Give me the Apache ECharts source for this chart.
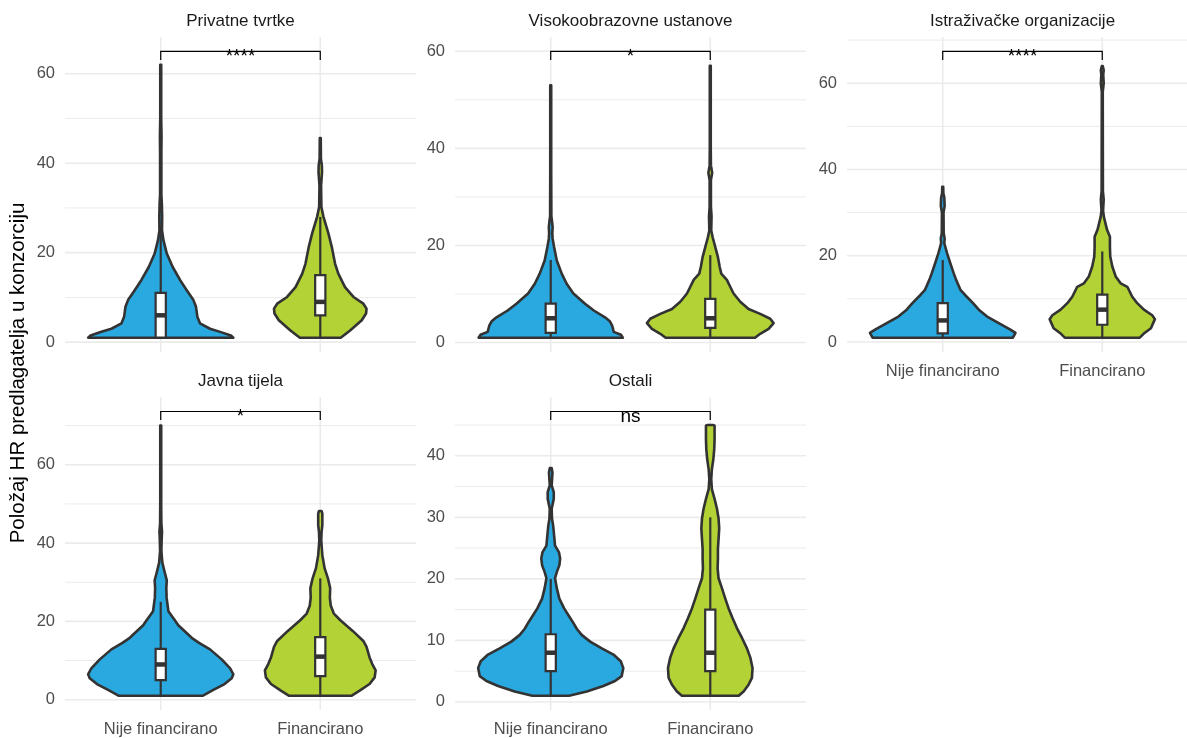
<!DOCTYPE html>
<html>
<head>
<meta charset="utf-8">
<script src="https://cdn.jsdelivr.net/npm/echarts@6/dist/echarts.min.js"></script>
<style>
html,body{margin:0;padding:0;background:#ffffff;}
#chart{width:1187px;height:738px;}
</style>
</head>
<body>
<div id="chart"></div>
<script>
// ---------------- DATA ----------------
const panelTitles = ['Privatne tvrtke', 'Visokoobrazovne ustanove', 'Istraživačke organizacije', 'Javna tijela', 'Ostali'];
const groups = ['Nije financirano', 'Financirano'];
const yAxisTitle = 'Položaj HR predlagatelja u konzorciju';

// violin outlines: [value, half-width of the density in category units]
const violinPrivatneNije = [[1,0.455],[1.5,0.44],[2.3,0.372],[3,0.309],[4.2,0.246],[5.6,0.23],[7.9,0.221],[9.4,0.205],[11.6,0.163],[13.9,0.121],[16.8,0.075],[19.8,0.038],[22.8,0.017],[25,0.008],[28,0.009],[31,0.007],[33,0.004],[42,0.004],[46,0.005],[50,0.003],[62,0.003]];
const violinPrivatneFin = [[1,0.128],[2.6,0.187],[4.9,0.26],[6.4,0.287],[7.5,0.29],[8.6,0.27],[10.1,0.208],[12.3,0.155],[15.3,0.113],[17.5,0.093],[21.3,0.072],[24.3,0.051],[28,0.02],[30.2,0.007],[35,0.005],[38,0.011],[39.5,0.01],[41,0.004],[45.6,0.003]];
const violinVisokoNije = [[1,0.452],[1.6,0.44],[2.2,0.395],[3.5,0.385],[4.4,0.37],[5.2,0.34],[6.6,0.27],[8,0.215],[10.1,0.142],[12.1,0.1],[14.2,0.069],[16.9,0.038],[19.7,0.021],[21.4,0.012],[22.5,0.01],[23.8,0.012],[25,0.008],[26,0.004],[35,0.003],[53,0.003]];
const violinVisokoFin = [[1,0.28],[1.8,0.313],[2.8,0.366],[4,0.397],[4.9,0.376],[5.9,0.313],[6.9,0.24],[8.4,0.188],[10.1,0.146],[11.5,0.125],[12.9,0.104],[14.2,0.069],[15.6,0.059],[17.6,0.048],[19.7,0.031],[21.7,0.015],[23.1,0.006],[26,0.008],[28,0.004],[33.5,0.004],[35,0.012],[36.5,0.004],[40,0.003],[57,0.003]];
const violinIstrazNije = [[1,0.44],[2.1,0.456],[2.85,0.424],[4.4,0.351],[5.9,0.278],[7.5,0.226],[9,0.19],[10.9,0.14],[12.1,0.111],[14.4,0.084],[15.9,0.069],[18.2,0.048],[20.6,0.027],[22.9,0.01],[24,0.012],[25.2,0.006],[30,0.005],[31.5,0.012],[33.5,0.01],[34.5,0.004],[36,0.003]];
const violinIstrazFin = [[1,0.235],[2.1,0.265],[3.2,0.305],[5.3,0.33],[6.2,0.313],[7.5,0.261],[9,0.219],[10.5,0.188],[12.8,0.157],[13.6,0.115],[15.2,0.084],[17.5,0.063],[19.8,0.05],[22.1,0.048],[24.4,0.048],[26,0.03],[27.5,0.02],[29,0.01],[30.5,0.005],[33,0.009],[35,0.004],[58,0.003],[60,0.009],[62,0.006],[63,0.009],[64,0.003]];
const violinJavnaNije = [[1,0.262],[2.5,0.33],[4,0.4],[5.5,0.445],[6.5,0.455],[8,0.435],[10.3,0.382],[12.85,0.309],[14.5,0.24],[15.8,0.194],[16.2,0.184],[19,0.11],[20.5,0.085],[22.6,0.048],[26,0.037],[28.5,0.035],[30.5,0.038],[32.5,0.025],[35,0.01],[38,0.004],[41,0.006],[43,0.008],[45,0.004],[50,0.003],[70,0.003]];
const violinJavnaFin = [[1,0.195],[2.3,0.247],[4,0.309],[5.7,0.341],[7.5,0.347],[9.1,0.326],[10.8,0.309],[13.5,0.29],[15,0.27],[17.5,0.205],[20.3,0.126],[22,0.085],[24,0.066],[26,0.06],[28.5,0.062],[31,0.048],[33.6,0.027],[36.9,0.013],[40.7,0.006],[42.8,0.008],[44.6,0.013],[47.5,0.013],[48.2,0.008]];
const violinOstaliNije = [[1,0.115],[1.7,0.226],[2.6,0.33],[3.4,0.403],[4.2,0.445],[5.5,0.455],[6.6,0.439],[7.7,0.393],[8.7,0.32],[9.8,0.247],[10.9,0.194],[11.9,0.163],[13,0.138],[14.1,0.111],[15.2,0.084],[16.8,0.054],[18.5,0.038],[20.1,0.027],[21.1,0.038],[22.2,0.054],[23.3,0.059],[24.3,0.052],[25.4,0.027],[27.1,0.021],[28.7,0.015],[29.8,0.008],[31.4,0.006],[33,0.019],[34.1,0.019],[35.2,0.006],[37.3,0.011],[38,0.006]];
const violinOstaliFin = [[1,0.178],[1.7,0.209],[2.8,0.24],[3.9,0.261],[5.5,0.265],[7.2,0.251],[8.7,0.23],[10.4,0.199],[12,0.167],[13.6,0.14],[15.2,0.115],[16.8,0.094],[18.5,0.073],[20.1,0.052],[21.7,0.046],[23.3,0.048],[24.9,0.048],[26.5,0.052],[28.2,0.056],[29.8,0.052],[31.4,0.042],[33,0.027],[34.6,0.01],[36.2,0.006],[37.8,0.01],[39.4,0.019],[41.1,0.025],[42.7,0.027],[44.9,0.027],[45,0.02]];

// box plot stats per group: [lower whisker, Q1, median, Q3, upper whisker]
const boxPrivatne = [[1,1,6,11,25],[1,6,9,15,28]];
const boxVisoko   = [[1,2,5,8,17],[1,3,5,9,18]];
const boxIstraz   = [[1,2,5,9,19],[1,4,7.5,11,21]];
const boxJavna    = [[1,5,9,13,25],[1,6,11,16,31]];
const boxOstali   = [[1,5,8,11,20],[1,5,8,15,30]];

// significance brackets
const sigLabels = ['****', '*', '****', '*', 'ns'];
const bracketY = [65, 60, 67.4, 73.6, 47.2];

// y tick labels and minor grid values
const yTickValues = [[0,20,40,60],[0,20,40,60],[0,20,40,60],[0,20,40,60],[0,10,20,30,40]];
const yMinorValues = [[10,30,50],[10,30,50],[10,30,50,70],[10,30,50,70],[5,15,25,35,45]];

// ---------------- ASSEMBLY ----------------
const violins = [
  [violinPrivatneNije, violinPrivatneFin],
  [violinVisokoNije, violinVisokoFin],
  [violinIstrazNije, violinIstrazFin],
  [violinJavnaNije, violinJavnaFin],
  [violinOstaliNije, violinOstaliFin]
];
const boxes = [boxPrivatne, boxVisoko, boxIstraz, boxJavna, boxOstali];

// layout / style (not data)
const panelW = 351;                 // full facet width in px
const pxPerUnit = panelW / 2.2;     // discrete axis spans 0.4 .. 2.6
const panelLayout = [
  {left: 65,  top: 37,    width: 351, height: 315,   xLabels: false},
  {left: 455, top: 37,    width: 351, height: 315,   xLabels: false},
  {left: 847, top: 37,    width: 340, height: 315,   xLabels: true},   // cut by the right image edge
  {left: 65,  top: 397.3, width: 351, height: 314.4, xLabels: true},
  {left: 455, top: 397.3, width: 351, height: 314.4, xLabels: true}
];
const FONT = 'Liberation Sans, Arial, Helvetica, sans-serif';
const fillColors = ['#29A9E0', '#B2D235'];
const outline = '#333333';
const gridColor = '#EBEBEB';
const boxWidth = 0.064;

const option = {
  animation: false,
  backgroundColor: '#ffffff',
  title: [], grid: [], xAxis: [], yAxis: [], series: [],
  graphic: [{
    type: 'text', x: 18.5, y: 373, rotation: Math.PI / 2,
    style: {text: yAxisTitle, fill: '#000000', font: '20.5px ' + FONT, align: 'center', verticalAlign: 'middle'}
  }]
};

panelLayout.forEach((L, pi) => {
  const Y = bracketY[pi];
  const span = Y - 1;
  const yMin = 1 - 0.05 * span;
  const yMax = Y + 0.05 * span;
  const xMax = 0.4 + L.width / pxPerUnit;
  option.title.push({
    text: panelTitles[pi], left: L.left + panelW / 2, top: L.top - 25.5, textAlign: 'center', padding: 0,
    textStyle: {fontFamily: FONT, fontSize: 17, fontWeight: 'normal', color: '#1A1A1A', lineHeight: 20}
  });
  option.grid.push({left: L.left, top: L.top, width: L.width, height: L.height, containLabel: false});
  option.xAxis.push({
    type: 'value', gridIndex: pi, min: 0.4, max: xMax,
    axisLine: {show: false}, axisTick: {show: false}, splitLine: {show: false},
    axisLabel: {
      show: L.xLabels, customValues: [1, 2], margin: 11,
      formatter: v => groups[Math.round(v) - 1] || '',
      fontFamily: FONT, fontSize: 16.5, color: '#4D4D4D'
    }
  });
  option.yAxis.push({
    type: 'value', gridIndex: pi, min: yMin, max: yMax,
    axisLine: {show: false}, axisTick: {show: false}, splitLine: {show: false},
    axisLabel: {customValues: yTickValues[pi], margin: 10, fontFamily: FONT, fontSize: 16.5, color: '#4D4D4D'}
  });

  // grid lines
  option.series.push({
    type: 'custom', xAxisIndex: pi, yAxisIndex: pi, z: 1, silent: true,
    data: [[1.5, 1]],
    renderItem: (params, api) => {
      const cs = params.coordSys;
      const ch = [];
      yMinorValues[pi].forEach(v => {
        const y = api.coord([1, v])[1];
        ch.push({type: 'line', shape: {x1: cs.x, y1: y, x2: cs.x + cs.width, y2: y}, style: {stroke: gridColor, lineWidth: 1}});
      });
      yTickValues[pi].forEach(v => {
        const y = api.coord([1, v])[1];
        ch.push({type: 'line', shape: {x1: cs.x, y1: y, x2: cs.x + cs.width, y2: y}, style: {stroke: gridColor, lineWidth: 1.6}});
      });
      [1, 2].forEach(c => {
        const x = api.coord([c, 1])[0];
        ch.push({type: 'line', shape: {x1: x, y1: cs.y, x2: x, y2: cs.y + cs.height}, style: {stroke: gridColor, lineWidth: 1.6}});
      });
      return {type: 'group', children: ch};
    }
  });

  // violins + boxplots
  option.series.push({
    type: 'custom', xAxisIndex: pi, yAxisIndex: pi, z: 2, silent: true,
    data: [[1, 1], [2, 1]],
    renderItem: (params, api) => {
      const gi = params.dataIndex;
      const c = api.value(0);
      const pts = violins[pi][gi];
      const right = pts.map(p => api.coord([c + p[1], p[0]]));
      const left = pts.map(p => api.coord([c - p[1], p[0]])).reverse();
      const b = boxes[pi][gi];
      const bx0 = api.coord([c - boxWidth / 2, 0])[0];
      const bx1 = api.coord([c + boxWidth / 2, 0])[0];
      const cx = api.coord([c, 0])[0];
      const yLow = api.coord([c, b[0]])[1];
      const yQ1 = api.coord([c, b[1]])[1];
      const yMed = api.coord([c, b[2]])[1];
      const yQ3 = api.coord([c, b[3]])[1];
      const yHigh = api.coord([c, b[4]])[1];
      return {type: 'group', children: [
        {type: 'polygon', shape: {points: right.concat(left)}, style: {fill: fillColors[gi], stroke: outline, lineWidth: 2.6, lineJoin: 'round'}},
        {type: 'line', shape: {x1: cx, y1: yQ3, x2: cx, y2: yHigh}, style: {stroke: outline, lineWidth: 2.2}},
        {type: 'line', shape: {x1: cx, y1: yQ1, x2: cx, y2: yLow}, style: {stroke: outline, lineWidth: 2.2}},
        {type: 'rect', shape: {x: bx0, y: yQ3, width: bx1 - bx0, height: yQ1 - yQ3}, style: {fill: '#ffffff', stroke: outline, lineWidth: 2.2}},
        {type: 'line', shape: {x1: bx0, y1: yMed, x2: bx1, y2: yMed}, style: {stroke: outline, lineWidth: 4.5}}
      ]};
    }
  });

  // significance bracket
  option.series.push({
    type: 'custom', xAxisIndex: pi, yAxisIndex: pi, z: 3, silent: true,
    data: [[1.5, Y]],
    renderItem: (params, api) => {
      const tip = 0.03 * span;
      const p1 = api.coord([1, Y]);
      const p2 = api.coord([2, Y]);
      const t1 = api.coord([1, Y - tip]);
      const t2 = api.coord([2, Y - tip]);
      const mid = api.coord([1.5, Y]);
      return {type: 'group', children: [
        {type: 'polyline', shape: {points: [t1, p1, p2, t2]}, style: {stroke: '#000000', lineWidth: 1.2, fill: null}},
        {type: 'text', style: {text: sigLabels[pi], x: mid[0], y: mid[1] + 5, align: 'center', verticalAlign: 'middle', fill: '#000000', font: '19px ' + FONT}}
      ]};
    }
  });
});

const chart = echarts.init(document.getElementById('chart'), null, {renderer: 'canvas'});
chart.setOption(option);
</script>
</body>
</html>
